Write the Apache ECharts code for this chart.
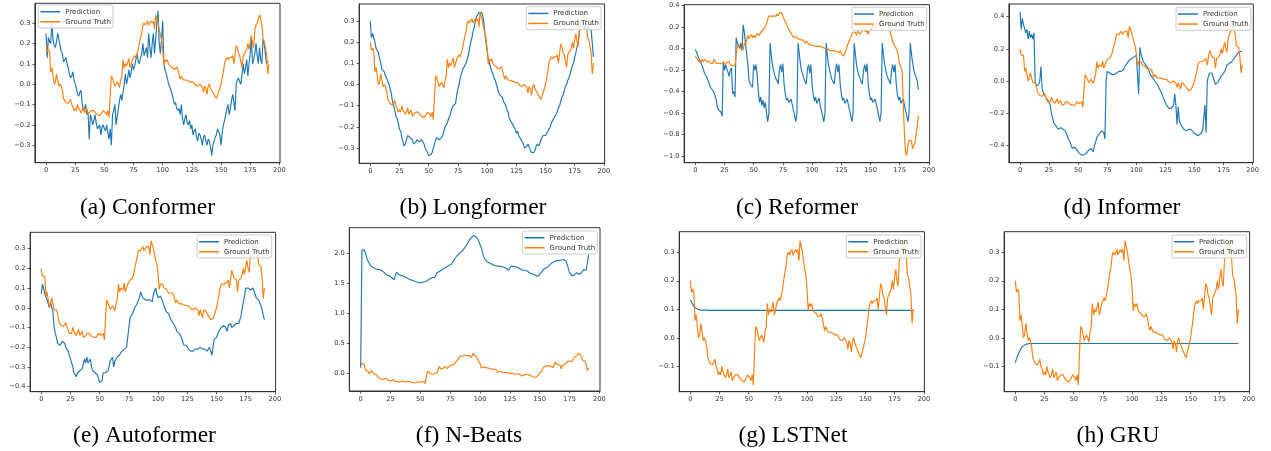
<!DOCTYPE html>
<html><head><meta charset="utf-8">
<script src="https://cdn.jsdelivr.net/npm/echarts@6/dist/echarts.min.js"></script>
<style>html,body{margin:0;padding:0;background:#fff}#c{width:1271px;height:451px}</style>
</head><body><div id="c"></div>
<script>
// time steps (x positions of samples)
const steps = Array.from({length: 192}, (_, i) => i);
const xTicks = [0, 25, 50, 75, 100, 125, 150, 175, 200];
const yTicksA = [-0.3, -0.2, -0.1, 0.0, 0.1, 0.2, 0.3];
const yTicksB = [-0.3, -0.2, -0.1, 0.0, 0.1, 0.2, 0.3];
const yTicksC = [-1.0, -0.8, -0.6, -0.4, -0.2, 0.0, 0.2, 0.4];
const yTicksD = [-0.4, -0.2, 0.0, 0.2, 0.4];
const yTicksE = [-0.4, -0.3, -0.2, -0.1, 0.0, 0.1, 0.2, 0.3];
const yTicksF = [0.0, 0.5, 1.0, 1.5, 2.0];
const yTicksG = [-0.1, 0.0, 0.1, 0.2, 0.3];
const yTicksH = [-0.1, 0.0, 0.1, 0.2, 0.3];

const captions = ['(a) Conformer', '(b) Longformer', '(c) Reformer', '(d) Informer',
                  '(e) Autoformer', '(f) N-Beats', '(g) LSTNet', '(h) GRU'];

const groundTruth = [
 0.20, 0.16, 0.17, 0.16, 0.06, 0.08, 0.04, 0.00, 0.01, 0.05, 0.02, -0.01, 0.00, -0.01, -0.03, -0.07,
 -0.08, -0.09, -0.09, -0.095, -0.09, -0.075, -0.10, -0.11, -0.13, -0.12, -0.13, -0.10, -0.12, -0.13, -0.14, -0.13,
 -0.11, -0.14, -0.13, -0.12, -0.15, -0.14, -0.145, -0.13, -0.135, -0.13, -0.14, -0.145, -0.15, -0.15, -0.155, -0.15,
 -0.14, -0.13, -0.125, -0.14, -0.15, -0.13, -0.165, -0.05, 0.04, 0.03, 0.01, -0.01, -0.01, 0.01, 0.00, -0.015,
 0.02, 0.04, 0.12, 0.08, 0.10, 0.09, 0.09, 0.125, 0.08, 0.10, 0.12, 0.125, 0.14, 0.13, 0.15, 0.17,
 0.20, 0.23, 0.25, 0.29, 0.30, 0.29, 0.30, 0.31, 0.29, 0.30, 0.31, 0.30, 0.31, 0.27, 0.34, 0.34,
 0.30, 0.27, 0.24, 0.22, 0.17, 0.095, 0.12, 0.11, 0.12, 0.10, 0.09, 0.095, 0.085, 0.075, 0.07, 0.075,
 0.085, 0.07, 0.075, 0.025, 0.04, 0.04, 0.02, 0.015, 0.02, 0.02, 0.015, 0.02, 0.01, 0.005, 0.01, 0.01,
 -0.005, -0.01, -0.01, -0.005, 0.00, -0.005, -0.015, -0.04, -0.01, -0.02, -0.05, -0.01, 0.00, -0.02, -0.03, -0.04,
 -0.05, -0.06, -0.07, -0.055, -0.05, -0.02, 0.00, 0.03, 0.06, 0.10, 0.12, 0.13, 0.12, 0.13, 0.125, 0.13,
 0.14, 0.10, 0.10, 0.19, 0.18, 0.15, 0.14, 0.145, 0.08, 0.14, 0.15, 0.15, 0.17, 0.20, 0.17, 0.21,
 0.24, 0.20, 0.18, 0.27, 0.29, 0.30, 0.32, 0.34, 0.32, 0.29, 0.22, 0.21, 0.21, 0.15, 0.05, 0.10
];

const reformerTruth = [
 -0.07, -0.08, -0.10, -0.12, -0.11, -0.13, -0.10, -0.12, -0.10, -0.11, -0.12, -0.13, -0.12, -0.14, -0.13, -0.14,
 -0.10, -0.11, -0.14, -0.13, -0.14, -0.15, -0.14, -0.15, -0.13, -0.14, -0.15, -0.13, -0.14, -0.12, -0.15, -0.14,
 -0.16, -0.15, -0.16, -0.05, 0.02, 0.04, 0.03, 0.00, 0.01, -0.01, 0.05, 0.03, 0.08, 0.12, 0.09, 0.10,
 0.13, 0.10, 0.12, 0.10, 0.12, 0.14, 0.13, 0.12, 0.15, 0.14, 0.17, 0.16, 0.20, 0.23, 0.27, 0.30,
 0.29, 0.30, 0.31, 0.30, 0.31, 0.30, 0.32, 0.30, 0.33, 0.34, 0.33, 0.30, 0.27, 0.25, 0.23, 0.20,
 0.18, 0.17, 0.14, 0.12, 0.10, 0.10, 0.11, 0.10, 0.09, 0.09, 0.08, 0.07, 0.08, 0.07, 0.05, 0.07,
 0.06, 0.04, 0.05, 0.03, 0.02, 0.03, 0.03, 0.02, 0.02, 0.02, 0.01, 0.02, 0.01, 0.01, 0.00, 0.00,
 0.01, 0.00, -0.01, -0.02, -0.01, -0.02, -0.03, -0.02, -0.01, -0.03, -0.02, -0.04, -0.02, -0.05, -0.06, -0.07,
 -0.04, -0.02, 0.02, 0.05, 0.08, 0.10, 0.13, 0.15, 0.14, 0.15, 0.12, 0.16, 0.15, 0.13, 0.15, 0.14,
 0.19, 0.20, 0.15, 0.17, 0.13, 0.18, 0.20, 0.16, 0.20, 0.22, 0.19, 0.23, 0.25, 0.22, 0.20, 0.25,
 0.28, 0.30, 0.32, 0.33, 0.30, 0.25, 0.20, 0.15, 0.10, 0.06, 0.04, 0.02, 0.00, -0.02, -0.08, -0.15,
 -0.17, -0.21, -0.50, -0.80, -0.97, -0.99, -0.90, -0.85, -0.84, -0.86, -0.93, -0.92, -0.88, -0.80, -0.72, -0.62
];

const conformerPred = [
 0.25, 0.13, 0.23, 0.21, 0.20, 0.30, 0.22, 0.19, 0.18, 0.21, 0.25, 0.22, 0.19, 0.16, 0.15, 0.11,
 0.12, 0.13, 0.10, 0.08, 0.05, 0.03, 0.04, 0.06, 0.02, 0.00, -0.02, -0.05, -0.06, -0.04, -0.03, -0.10,
 -0.13, -0.12, -0.10, -0.15, -0.14, -0.27, -0.15, -0.17, -0.20, -0.18, -0.15, -0.19, -0.22, -0.21, -0.20, -0.25,
 -0.21, -0.20, -0.22, -0.23, -0.20, -0.24, -0.27, -0.22, -0.30, -0.15, -0.13, -0.10, -0.20, -0.16, -0.12, -0.08,
 -0.05, -0.08, -0.04, 0.00, 0.05, 0.00, 0.03, 0.07, 0.03, 0.06, 0.10, 0.07, 0.09, 0.12, 0.15, 0.11,
 0.10, 0.13, 0.15, 0.20, 0.14, 0.16, 0.18, 0.13, 0.25, 0.18, 0.13, 0.20, 0.25, 0.15, 0.22, 0.30,
 0.36, 0.20, 0.15, 0.22, 0.31, 0.10, 0.07, 0.05, 0.03, 0.00, -0.01, -0.03, -0.05, -0.07, -0.10, -0.09,
 -0.12, -0.13, -0.12, -0.15, -0.10, -0.17, -0.20, -0.17, -0.15, -0.19, -0.20, -0.18, -0.22, -0.20, -0.25, -0.23,
 -0.22, -0.26, -0.28, -0.24, -0.25, -0.27, -0.30, -0.26, -0.25, -0.28, -0.30, -0.27, -0.28, -0.31, -0.35, -0.30,
 -0.28, -0.26, -0.25, -0.22, -0.22, -0.25, -0.30, -0.24, -0.20, -0.18, -0.15, -0.12, -0.10, -0.15, -0.12, -0.08,
 -0.05, -0.09, -0.13, 0.00, 0.02, 0.03, 0.01, 0.00, 0.05, 0.10, 0.05, 0.08, 0.12, 0.04, 0.10, 0.15,
 0.22, 0.10, 0.12, 0.15, 0.20, 0.14, 0.10, 0.18, 0.12, 0.10, 0.22, 0.20, 0.15, 0.10, 0.11, 0.11
];

const longformerPred = [
 0.30, 0.22, 0.24, 0.24, 0.20, 0.17, 0.17, 0.15, 0.12, 0.10, 0.07, 0.07, 0.06, 0.04, 0.03, 0.03,
 0.00, -0.02, -0.04, -0.08, -0.10, -0.12, -0.15, -0.16, -0.18, -0.21, -0.22, -0.25, -0.27, -0.29, -0.28, -0.26,
 -0.24, -0.24, -0.25, -0.25, -0.26, -0.28, -0.28, -0.27, -0.26, -0.26, -0.27, -0.27, -0.26, -0.27, -0.28, -0.30,
 -0.31, -0.32, -0.335, -0.335, -0.33, -0.32, -0.30, -0.28, -0.26, -0.25, -0.25, -0.26, -0.26, -0.25, -0.24, -0.22,
 -0.20, -0.19, -0.18, -0.16, -0.15, -0.13, -0.11, -0.10, -0.10, -0.09, -0.05, -0.02, 0.00, 0.03, 0.05, 0.07,
 0.08, 0.09, 0.10, 0.12, 0.14, 0.17, 0.20, 0.22, 0.25, 0.27, 0.30, 0.32, 0.33, 0.34, 0.34, 0.34,
 0.33, 0.30, 0.25, 0.20, 0.16, 0.12, 0.10, 0.08, 0.06, 0.05, 0.03, 0.02, 0.00, -0.02, -0.04, -0.05,
 -0.05, -0.06, -0.08, -0.09, -0.10, -0.12, -0.13, -0.16, -0.17, -0.18, -0.19, -0.20, -0.21, -0.23, -0.22, -0.24,
 -0.25, -0.26, -0.27, -0.28, -0.30, -0.30, -0.29, -0.28, -0.28, -0.31, -0.32, -0.325, -0.32, -0.31, -0.29, -0.28,
 -0.29, -0.28, -0.26, -0.25, -0.24, -0.24, -0.24, -0.23, -0.22, -0.21, -0.20, -0.18, -0.17, -0.16, -0.15, -0.14,
 -0.13, -0.11, -0.10, -0.08, -0.06, -0.05, -0.03, -0.01, 0.00, 0.02, 0.03, 0.05, 0.07, 0.09, 0.10, 0.13,
 0.15, 0.18, 0.20, 0.25, 0.28, 0.30, 0.27, 0.26, 0.28, 0.26, 0.28, 0.26, 0.26, 0.26, 0.26, 0.13
];

const reformerPred = [
 -0.01, -0.03, -0.06, -0.09, -0.11, -0.14, -0.16, -0.20, -0.23, -0.25, -0.27, -0.30, -0.33, -0.36, -0.37, -0.39,
 -0.41, -0.44, -0.48, -0.55, -0.57, -0.57, -0.59, -0.63, -0.12, -0.20, -0.15, -0.19, -0.22, -0.26, -0.20, -0.18,
 -0.42, -0.40, -0.45, 0.10, 0.05, 0.06, 0.00, 0.05, -0.02, 0.22, 0.15, 0.05, -0.05, -0.15, -0.30, -0.33,
 -0.32, -0.36, -0.15, -0.20, -0.15, -0.25, -0.40, -0.50, -0.45, -0.53, -0.48, -0.55, -0.50, -0.60, -0.68, -0.60,
 0.05, -0.06, -0.15, -0.20, -0.25, -0.28, -0.30, -0.33, -0.20, -0.15, -0.22, -0.14, -0.33, -0.42, -0.48, -0.46,
 -0.50, -0.51, -0.47, -0.52, -0.57, -0.62, -0.68, -0.60, 0.05, -0.05, -0.14, -0.21, -0.24, -0.28, -0.31, -0.33,
 -0.19, -0.15, -0.23, -0.15, -0.34, -0.43, -0.49, -0.45, -0.51, -0.50, -0.46, -0.53, -0.58, -0.63, -0.68, -0.60,
 0.05, -0.06, -0.15, -0.20, -0.25, -0.29, -0.30, -0.33, -0.20, -0.14, -0.22, -0.15, -0.33, -0.42, -0.48, -0.46,
 -0.51, -0.50, -0.47, -0.52, -0.57, -0.62, -0.68, -0.61, 0.05, -0.05, -0.15, -0.21, -0.25, -0.28, -0.31, -0.33,
 -0.20, -0.15, -0.22, -0.14, -0.33, -0.42, -0.48, -0.46, -0.50, -0.51, -0.47, -0.52, -0.57, -0.62, -0.68, -0.60,
 0.05, -0.06, -0.14, -0.20, -0.25, -0.28, -0.30, -0.33, -0.20, -0.15, -0.22, -0.15, -0.33, -0.43, -0.48, -0.45,
 -0.51, -0.50, -0.47, -0.52, -0.58, -0.62, -0.68, -0.60, 0.05, -0.05, -0.13, -0.20, -0.24, -0.27, -0.30, -0.38
];

const informerPred = [
 0.43, 0.32, 0.39, 0.35, 0.34, 0.30, 0.32, 0.26, 0.31, 0.27, 0.29, 0.26, 0.30, 0.00, -0.03, -0.04,
 -0.02, 0.00, 0.09, -0.05, -0.07, -0.08, -0.10, -0.11, -0.12, -0.13, -0.15, -0.20, -0.23, -0.26, -0.27, -0.28,
 -0.29, -0.30, -0.29, -0.29, -0.30, -0.30, -0.31, -0.31, -0.33, -0.35, -0.36, -0.38, -0.40, -0.42, -0.41, -0.41,
 -0.42, -0.43, -0.44, -0.45, -0.45, -0.46, -0.46, -0.46, -0.45, -0.45, -0.44, -0.43, -0.42, -0.42, -0.43, -0.44,
 -0.40, -0.38, -0.35, -0.34, -0.33, -0.33, -0.31, -0.30, -0.32, -0.36, 0.00, 0.06, 0.06, 0.05, 0.04, 0.04,
 0.04, 0.04, 0.05, 0.05, 0.06, 0.06, 0.06, 0.06, 0.07, 0.07, 0.09, 0.10, 0.11, 0.12, 0.13, 0.13,
 0.14, 0.14, 0.15, 0.15, 0.16, 0.16, -0.08, 0.21, 0.17, 0.18, 0.12, 0.11, 0.10, 0.09, 0.08, 0.06,
 0.04, 0.03, 0.02, 0.01, 0.00, -0.01, -0.02, -0.03, -0.05, -0.06, -0.08, -0.10, -0.12, -0.13, -0.15, -0.16,
 -0.17, -0.17, -0.17, -0.16, -0.15, -0.08, -0.15, -0.27, -0.16, -0.25, -0.26, -0.28, -0.29, -0.30, -0.30, -0.31,
 -0.30, -0.30, -0.30, -0.30, -0.31, -0.32, -0.32, -0.33, -0.33, -0.34, -0.34, -0.33, -0.32, -0.31, -0.30, -0.15,
 -0.32, 0.00, 0.03, 0.05, 0.06, 0.05, 0.04, 0.00, -0.02, -0.02, -0.01, 0.00, 0.02, 0.03, 0.04, 0.05,
 0.06, 0.08, 0.10, 0.10, 0.11, 0.11, 0.12, 0.13, 0.14, 0.15, 0.16, 0.17, 0.18, 0.18, 0.185, 0.185
];

const autoformerPred = [
 0.07, 0.12, 0.10, 0.07, 0.06, 0.04, 0.05, 0.00, 0.03, 0.00, -0.02, -0.10, -0.13, -0.15, -0.18, -0.19,
 -0.19, -0.18, -0.17, -0.16, -0.18, -0.20, -0.21, -0.22, -0.24, -0.25, -0.28, -0.30, -0.33, -0.34, -0.35, -0.33,
 -0.33, -0.32, -0.32, -0.31, -0.30, -0.26, -0.28, -0.25, -0.28, -0.27, -0.26, -0.30, -0.32, -0.32, -0.33, -0.33,
 -0.34, -0.35, -0.38, -0.39, -0.37, -0.33, -0.34, -0.33, -0.33, -0.32, -0.30, -0.27, -0.26, -0.25, -0.30, -0.27,
 -0.26, -0.25, -0.26, -0.24, -0.23, -0.22, -0.21, -0.21, -0.22, -0.20, -0.15, -0.10, -0.05, -0.04, -0.03, -0.02,
 0.00, 0.01, 0.02, 0.03, 0.05, 0.08, 0.07, 0.05, 0.04, 0.04, 0.04, 0.04, 0.05, 0.04, 0.04, 0.03,
 0.07, 0.08, 0.10, 0.07, 0.05, 0.06, 0.06, 0.05, 0.03, 0.01, 0.00, -0.02, -0.03, -0.03, -0.04, -0.06,
 -0.07, -0.08, -0.09, -0.10, -0.12, -0.12, -0.13, -0.14, -0.15, -0.17, -0.19, -0.18, -0.19, -0.20, -0.21, -0.21,
 -0.22, -0.22, -0.22, -0.21, -0.21, -0.20, -0.21, -0.20, -0.20, -0.20, -0.21, -0.22, -0.21, -0.21, -0.22, -0.23,
 -0.20, -0.22, -0.24, -0.20, -0.16, -0.17, -0.15, -0.14, -0.12, -0.11, -0.10, -0.11, -0.09, -0.08, -0.10, -0.12,
 -0.09, -0.09, -0.08, -0.10, -0.09, -0.09, -0.08, -0.08, -0.07, -0.08, -0.06, -0.04, 0.00, 0.03, 0.06, 0.10,
 0.11, 0.10, 0.09, 0.09, 0.10, 0.10, 0.09, 0.07, 0.05, 0.06, 0.04, 0.03, 0.01, -0.01, -0.04, -0.06
];

const nbeatsPred = [
 0.10, 2.05, 2.07, 2.06, 2.00, 1.93, 1.88, 1.84, 1.80, 1.78, 1.77, 1.76, 1.75, 1.74, 1.73, 1.73,
 1.73, 1.72, 1.71, 1.70, 1.68, 1.65, 1.64, 1.63, 1.63, 1.62, 1.60, 1.57, 1.56, 1.58, 1.69, 1.66,
 1.65, 1.64, 1.63, 1.63, 1.62, 1.61, 1.60, 1.59, 1.58, 1.57, 1.56, 1.56, 1.55, 1.54, 1.53, 1.52,
 1.52, 1.51, 1.51, 1.52, 1.52, 1.53, 1.53, 1.54, 1.55, 1.57, 1.58, 1.59, 1.60, 1.60, 1.60, 1.63,
 1.68, 1.69, 1.70, 1.71, 1.73, 1.74, 1.75, 1.77, 1.78, 1.79, 1.80, 1.81, 1.82, 1.85, 1.88, 1.92,
 1.95, 1.97, 1.98, 2.00, 2.02, 2.04, 2.06, 2.09, 2.12, 2.15, 2.18, 2.22, 2.25, 2.27, 2.28, 2.30,
 2.29, 2.27, 2.24, 2.20, 2.15, 2.10, 2.02, 1.95, 1.91, 1.88, 1.86, 1.85, 1.84, 1.83, 1.82, 1.80,
 1.80, 1.79, 1.79, 1.79, 1.79, 1.78, 1.78, 1.77, 1.77, 1.76, 1.75, 1.73, 1.72, 1.72, 1.79, 1.79,
 1.78, 1.78, 1.78, 1.77, 1.76, 1.75, 1.74, 1.73, 1.72, 1.72, 1.72, 1.71, 1.70, 1.68, 1.67, 1.67,
 1.66, 1.65, 1.64, 1.63, 1.62, 1.63, 1.65, 1.68, 1.70, 1.73, 1.75, 1.76, 1.76, 1.78, 1.80, 1.82,
 1.84, 1.85, 1.86, 1.87, 1.88, 1.88, 1.88, 1.88, 1.89, 1.89, 1.90, 1.89, 1.87, 1.82, 1.75, 1.68,
 1.65, 1.63, 1.63, 1.64, 1.65, 1.68, 1.65, 1.65, 1.66, 1.68, 1.70, 1.73, 1.72, 1.72, 1.75, 1.98
];

const lstnetPred = [
 0.133, 0.125, 0.117, 0.111, 0.106, 0.103, 0.101, 0.099, 0.098, 0.098, 0.097, 0.097, 0.097, 0.097, 0.097, 0.096,
 0.096, 0.096, 0.096, 0.096, 0.096, 0.096, 0.096, 0.096, 0.096, 0.096, 0.096, 0.096, 0.096, 0.096, 0.096, 0.096,
 0.096, 0.096, 0.096, 0.096, 0.096, 0.096, 0.096, 0.096, 0.096, 0.096, 0.096, 0.096, 0.096, 0.096, 0.096, 0.096,
 0.096, 0.096, 0.096, 0.096, 0.096, 0.096, 0.096, 0.096, 0.096, 0.096, 0.096, 0.096, 0.096, 0.096, 0.096, 0.096,
 0.096, 0.096, 0.096, 0.096, 0.096, 0.096, 0.096, 0.096, 0.096, 0.096, 0.096, 0.096, 0.096, 0.096, 0.096, 0.096,
 0.096, 0.096, 0.096, 0.096, 0.096, 0.096, 0.096, 0.096, 0.096, 0.096, 0.096, 0.096, 0.096, 0.096, 0.096, 0.096,
 0.096, 0.096, 0.096, 0.096, 0.096, 0.096, 0.096, 0.096, 0.096, 0.096, 0.096, 0.096, 0.096, 0.096, 0.096, 0.096,
 0.096, 0.096, 0.096, 0.096, 0.096, 0.096, 0.096, 0.096, 0.096, 0.096, 0.096, 0.096, 0.096, 0.096, 0.096, 0.096,
 0.096, 0.096, 0.096, 0.096, 0.096, 0.096, 0.096, 0.096, 0.096, 0.096, 0.096, 0.096, 0.096, 0.096, 0.096, 0.096,
 0.096, 0.096, 0.096, 0.096, 0.096, 0.096, 0.096, 0.096, 0.096, 0.096, 0.096, 0.096, 0.096, 0.096, 0.096, 0.096,
 0.096, 0.096, 0.096, 0.096, 0.096, 0.096, 0.096, 0.096, 0.096, 0.096, 0.096, 0.096, 0.096, 0.096, 0.096, 0.096,
 0.096, 0.096, 0.096, 0.096, 0.096, 0.096, 0.096, 0.096, 0.096, 0.096, 0.096, 0.096, 0.096, 0.096, 0.096, 0.096
];

const gruPred = [
 -0.087, -0.075, -0.063, -0.053, -0.045, -0.038, -0.032, -0.028, -0.025, -0.023, -0.022, -0.021, -0.020, -0.020, -0.020, -0.020,
 -0.020, -0.020, -0.020, -0.020, -0.020, -0.020, -0.020, -0.020, -0.020, -0.020, -0.020, -0.020, -0.020, -0.020, -0.020, -0.020,
 -0.020, -0.020, -0.020, -0.020, -0.020, -0.020, -0.020, -0.020, -0.020, -0.020, -0.020, -0.020, -0.020, -0.020, -0.020, -0.020,
 -0.020, -0.020, -0.020, -0.020, -0.020, -0.020, -0.020, -0.020, -0.020, -0.020, -0.020, -0.020, -0.020, -0.020, -0.020, -0.020,
 -0.020, -0.020, -0.020, -0.020, -0.020, -0.020, -0.020, -0.020, -0.020, -0.020, -0.020, -0.020, -0.020, -0.020, -0.020, -0.020,
 -0.020, -0.020, -0.020, -0.020, -0.020, -0.020, -0.020, -0.020, -0.020, -0.020, -0.020, -0.020, -0.020, -0.020, -0.020, -0.020,
 -0.020, -0.020, -0.020, -0.020, -0.020, -0.020, -0.020, -0.020, -0.020, -0.020, -0.020, -0.020, -0.020, -0.020, -0.020, -0.020,
 -0.020, -0.020, -0.020, -0.020, -0.020, -0.020, -0.020, -0.020, -0.020, -0.020, -0.020, -0.020, -0.020, -0.020, -0.020, -0.020,
 -0.020, -0.020, -0.020, -0.020, -0.020, -0.020, -0.020, -0.020, -0.020, -0.020, -0.020, -0.020, -0.020, -0.020, -0.020, -0.020,
 -0.020, -0.020, -0.020, -0.020, -0.020, -0.020, -0.020, -0.020, -0.020, -0.020, -0.020, -0.020, -0.020, -0.020, -0.020, -0.020,
 -0.020, -0.020, -0.020, -0.020, -0.020, -0.020, -0.020, -0.020, -0.020, -0.020, -0.020, -0.020, -0.020, -0.020, -0.020, -0.020,
 -0.020, -0.020, -0.020, -0.020, -0.020, -0.020, -0.020, -0.020, -0.020, -0.020, -0.020, -0.020, -0.020, -0.020, -0.020, -0.020
];

// ---- layout (pixel geometry of each panel) ----
const panels = [
  {pred: conformerPred,  gt: groundTruth,   ticks: yTicksA, y: [-0.386, 0.397], grid: {left: 34.9,  top: 3.3,   width: 245.1, height: 159.4}, leg: {left: 38.3, top: 5},  cap: [147.5, 207.5]},
  {pred: longformerPred, gt: groundTruth,   ticks: yTicksB, y: [-0.371, 0.379], grid: {left: 359.1, top: 4,     width: 245.5, height: 159.3}, leg: {right: 670, top: 6.7}, cap: [473, 207.5]},
  {pred: reformerPred,   gt: reformerTruth, ticks: yTicksC, y: [-1.060, 0.406], grid: {left: 684.1, top: 4.7,   width: 245.5, height: 158},   leg: {right: 344.3, top: 7.3}, cap: [797, 207.5]},
  {pred: informerPred,   gt: groundTruth,   ticks: yTicksD, y: [-0.508, 0.479], grid: {left: 1008.9, top: 4,    width: 244.4, height: 158.7}, leg: {right: 20.3, top: 7.3}, cap: [1122, 207.5]},
  {pred: autoformerPred, gt: groundTruth,   ticks: yTicksE, y: [-0.426, 0.383], grid: {left: 30.1,  top: 232.3, width: 245.5, height: 159.4}, leg: {right: 999.3, top: 235}, cap: [144.5, 436]},
  {pred: nbeatsPred,     gt: groundTruth,   ticks: yTicksF, y: [-0.288, 2.428], grid: {left: 349.3, top: 227.7, width: 250.7, height: 163.3}, leg: {right: 673.7, top: 231}, cap: [469, 436]},
  {pred: lstnetPred,     gt: groundTruth,   ticks: yTicksG, y: [-0.189, 0.372], grid: {left: 679.2, top: 231.7, width: 245.2, height: 160},   leg: {right: 350, top: 235}, cap: [793, 436]},
  {pred: gruPred,        gt: groundTruth,   ticks: yTicksH, y: [-0.189, 0.372], grid: {left: 1004.1, top: 231.7, width: 245.5, height: 160},  leg: {right: 24.3, top: 235}, cap: [1118, 436]}
];

const BLUE = '#1f77b4', ORANGE = '#ff7f0e', INK = '#333';
const fmtY = v => (Math.abs(v) < 1e-9 ? '0.0' : v.toFixed(1)).replace('-', '\u2212');

const grids = [], xAxes = [], yAxes = [], series = [], legends = [], graphics = [];
panels.forEach((p, i) => {
  grids.push(Object.assign({show: true, borderColor: INK, borderWidth: 1, containLabel: false}, p.grid));
  const axisCommon = {
    gridIndex: i, type: 'value', splitLine: {show: false},
    axisLine: {show: true, onZero: false, lineStyle: {color: INK, width: 1}},
    axisTick: {show: true, inside: false, length: 2.5, lineStyle: {color: INK, width: 0.8}},
  };
  xAxes.push(Object.assign({}, axisCommon, {
    min: -9.55, max: 200.55,
    axisTick: Object.assign({}, axisCommon.axisTick, {customValues: xTicks}),
    axisLabel: {customValues: xTicks, fontSize: 6.7, color: INK, fontFamily: 'DejaVu Sans', margin: 4.5}
  }));
  yAxes.push(Object.assign({}, axisCommon, {
    min: p.y[0], max: p.y[1],
    axisTick: Object.assign({}, axisCommon.axisTick, {customValues: p.ticks}),
    axisLabel: {customValues: p.ticks, fontSize: 6.7, color: INK, fontFamily: 'DejaVu Sans', margin: 4.5, formatter: fmtY}
  }));
  const mk = (name, vals, color) => ({
    name, type: 'line', xAxisIndex: i, yAxisIndex: i, showSymbol: false, symbol: 'none',
    data: steps.map((x, k) => [x, vals[k]]), color,
    lineStyle: {color, width: 1.15}, emphasis: {disabled: true}, animation: false, clip: true
  });
  series.push(mk('Prediction', p.pred, BLUE));
  series.push(mk('Ground Truth', p.gt, ORANGE));
  legends.push(Object.assign({
    orient: 'vertical', data: ['Prediction', 'Ground Truth'], icon: 'rect',
    itemWidth: 20, itemHeight: 1.5, itemGap: 2.5, padding: [3, 2, 2.5, 2],
    backgroundColor: 'rgba(255,255,255,0.8)', borderColor: '#cccccc', borderWidth: 1, borderRadius: 2,
    selectedMode: false,
    textStyle: {fontSize: 7, lineHeight: 7.5, color: INK, fontFamily: 'DejaVu Sans'}
  }, p.leg));
  graphics.push({
    type: 'text', x: p.cap[0], y: p.cap[1], silent: true,
    style: {text: captions[i], fill: '#000', fontSize: 23.5, fontFamily: '"Liberation Serif", "Times New Roman", serif',
            align: 'center', verticalAlign: 'middle'}
  });
});

const chart = echarts.init(document.getElementById('c'), null, {renderer: 'canvas'});
chart.setOption({
  animation: false, backgroundColor: '#fff',
  grid: grids, xAxis: xAxes, yAxis: yAxes, series, legend: legends, graphic: graphics
});
</script></body></html>
